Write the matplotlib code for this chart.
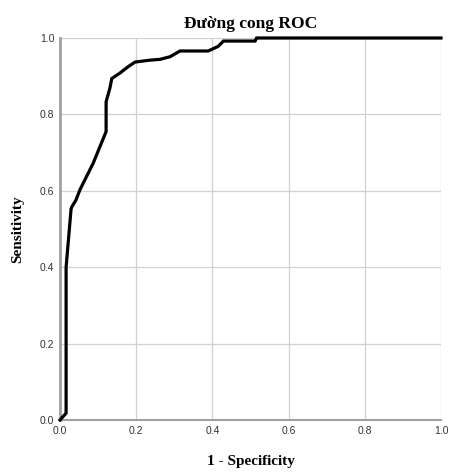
import matplotlib
matplotlib.use("Agg")
import matplotlib.pyplot as plt

# ROC points
fpr = [0.0, 0.016, 0.016, 0.029, 0.031, 0.042, 0.052, 0.074, 0.087, 0.105, 0.121,
       0.121, 0.131, 0.136, 0.157, 0.179, 0.197, 0.236, 0.262, 0.289, 0.315,
       0.389, 0.415, 0.429, 0.512, 0.516, 1.0]
tpr = [0.0, 0.018, 0.40, 0.552, 0.558, 0.576, 0.602, 0.646, 0.672, 0.716, 0.755,
       0.833, 0.869, 0.894, 0.908, 0.925, 0.937, 0.942, 0.944, 0.951, 0.966,
       0.966, 0.978, 0.992, 0.992, 1.0, 1.0]
ticks = [0.0, 0.2, 0.4, 0.6, 0.8, 1.0]

fig = plt.figure(figsize=(4.52, 4.72), dpi=100)
ax = fig.add_axes([60 / 452, 1 - 420 / 472, 381 / 452, 382 / 472])

ax.plot(fpr, tpr, color="black", lw=2.3, solid_joinstyle="miter", zorder=3, clip_on=False)

ax.set_xlim(0, 1)
ax.set_ylim(0, 1)
ax.set_xticks(ticks)
ax.set_yticks(ticks)
ax.set_xticklabels([f"{t:.1f}" for t in ticks], fontsize=7.5, family="Liberation Sans", color="#333333")
ax.set_yticklabels([f"{t:.1f}" for t in ticks], fontsize=7.5, family="Liberation Sans", color="#333333")
ax.tick_params(length=0, pad=4)
ax.grid(True, color="#d0d0d0", lw=0.9)
ax.set_axisbelow(True)

for side in ["top", "right"]:
    ax.spines[side].set_visible(False)
ax.spines["left"].set_color("#a0a0a0")
ax.spines["left"].set_linewidth(2.0)
ax.spines["bottom"].set_color("#a0a0a0")
ax.spines["bottom"].set_linewidth(1.5)

serif = ["Liberation Serif", "DejaVu Serif"]
ax.set_title("Đường cong ROC", fontsize=12.5, fontweight="bold", family=serif, pad=7)
ax.set_xlabel("1 - Specificity", fontsize=11, fontweight="bold", family=serif, labelpad=14)
ax.set_ylabel("Sensitivity", fontsize=11, fontweight="bold", family=serif, labelpad=11)

fig.savefig("out.png", dpi=100)
